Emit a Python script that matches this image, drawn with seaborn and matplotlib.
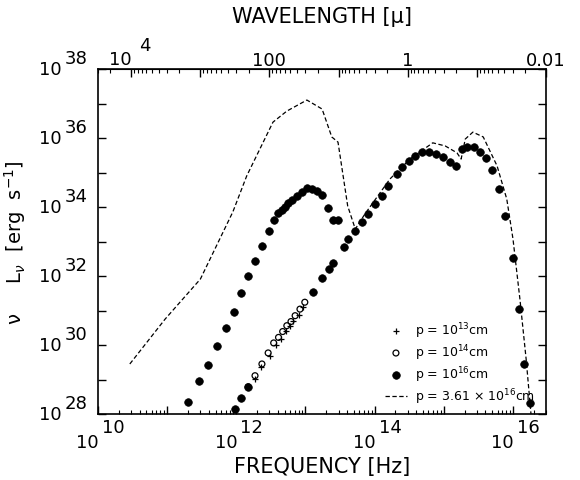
import numpy as np
import pandas as pd
import seaborn as sns
import matplotlib.pyplot as plt
from matplotlib.ticker import LogLocator, FixedLocator, NullFormatter, NullLocator

# log10 of frequency [Hz] and of nu L_nu [erg/s]
p16_lognu = [11.30, 11.46, 11.59, 11.72, 11.85, 11.97, 12.07, 12.17, 12.27, 12.37,
             12.47, 12.54, 12.60, 12.66, 12.70, 12.75, 12.81, 12.88, 12.95, 13.02,
             13.09, 13.17, 13.24, 13.33, 13.40, 13.47,
             11.98, 12.07, 12.17, 13.11, 13.24, 13.34, 13.40,
             13.55, 13.62, 13.72, 13.81, 13.91, 14.01, 14.10, 14.20, 14.32, 14.39,
             14.49, 14.58, 14.68, 14.78, 14.89, 14.99, 15.09, 15.18, 15.26, 15.34,
             15.44, 15.53, 15.61, 15.70, 15.80, 15.88, 16.00, 16.09, 16.16, 16.25]
p16_logL = [28.35, 28.96, 29.42, 29.97, 30.49, 30.96, 31.51, 32.00, 32.44, 32.87,
            33.30, 33.62, 33.83, 33.91, 34.00, 34.12, 34.20, 34.32, 34.44, 34.55,
            34.52, 34.46, 34.35, 33.97, 33.62, 33.62,
            28.15, 28.46, 28.78, 31.54, 31.94, 32.20, 32.38,
            32.83, 33.07, 33.31, 33.56, 33.80, 34.09, 34.33, 34.60, 34.96, 35.15,
            35.34, 35.49, 35.59, 35.60, 35.54, 35.44, 35.31, 35.20, 35.68, 35.73,
            35.75, 35.60, 35.41, 35.07, 34.52, 33.73, 32.51, 31.04, 29.45, 28.32]

p14_lognu = [12.17, 12.27, 12.37, 12.46, 12.54, 12.61, 12.67, 12.73, 12.79, 12.85, 12.92, 12.99]
p14_logL = [28.79, 29.11, 29.45, 29.77, 30.06, 30.22, 30.39, 30.56, 30.68, 30.85, 31.04, 31.24]

p13_lognu = [12.27, 12.35, 12.49, 12.57, 12.64, 12.72, 12.78, 12.82, 12.90, 12.96]
p13_logL = [29.01, 29.35, 29.69, 30.00, 30.17, 30.41, 30.56, 30.70, 30.87, 31.09]

p361_lognu = [10.46, 10.97, 11.48, 11.95, 12.15, 12.53, 12.73, 13.02, 13.24, 13.38,
              13.47, 13.61, 13.72, 13.86, 14.22, 14.51, 14.84, 15.02, 15.19, 15.25,
              15.31, 15.42, 15.57, 15.77, 15.91, 16.00, 16.10, 16.19, 16.26]
p361_logL = [29.45, 30.75, 31.91, 33.86, 34.90, 36.46, 36.78, 37.10, 36.84, 36.03,
             35.88, 34.03, 33.36, 33.80, 34.81, 35.39, 35.86, 35.77, 35.57, 35.39,
             35.97, 36.17, 36.03, 35.19, 34.23, 33.07, 31.33, 29.59, 28.00]

legend_labels = [r"p = $10^{13}$cm", r"p = $10^{14}$cm", r"p = $10^{16}$cm",
                 r"p = 3.61 × $10^{16}$cm"]

freq_exps = [10, 12, 14, 16]
lum_exps = [28, 30, 32, 34, 36, 38]
wave_ticks = [1e4, 1e3, 1e2, 1e1, 1.0, 1e-1, 1e-2]
wave_labels = {1e2: "100", 1.0: "1", 1e-2: "0.01"}

sns.set_style("ticks")
plt.rcParams['font.family'] = ['DejaVu Sans']
plt.rcParams['mathtext.fontset'] = 'dejavusans'
for k in ["text.color", "axes.labelcolor", "xtick.color", "ytick.color", "axes.edgecolor"]:
    plt.rcParams[k] = "black"

fig = plt.figure(figsize=(5.8, 4.81), dpi=100)
ax = fig.add_axes([98 / 580, 1 - 415 / 481, 448 / 580, 345 / 481])
ax.set_xscale("log")
ax.set_yscale("log")

df13 = pd.DataFrame({"nu": 10 ** np.array(p13_lognu), "L": 10 ** np.array(p13_logL)})
df14 = pd.DataFrame({"nu": 10 ** np.array(p14_lognu), "L": 10 ** np.array(p14_logL)})
df16 = pd.DataFrame({"nu": 10 ** np.array(p16_lognu), "L": 10 ** np.array(p16_logL)})
df361 = pd.DataFrame({"nu": 10 ** np.array(p361_lognu), "L": 10 ** np.array(p361_logL)})

sns.scatterplot(data=df13, x="nu", y="L", marker="+", color="black", s=22,
                linewidth=0.9, label=legend_labels[0], ax=ax, zorder=4)
sns.scatterplot(data=df14, x="nu", y="L", marker="o", facecolor="none",
                edgecolor="black", s=18, linewidth=0.9, label=legend_labels[1], ax=ax, zorder=5)
sns.scatterplot(data=df16, x="nu", y="L", marker="o", color="black",
                edgecolor="black", s=30, linewidth=0.5, label=legend_labels[2], ax=ax, zorder=3)
sns.lineplot(data=df361, x="nu", y="L", color="black", linestyle=(0, (3.5, 2)),
             linewidth=0.9, sort=False, estimator=None, label=legend_labels[3], ax=ax)

ax.set_xlim(1e10, 3e16)
ax.set_ylim(1e28, 1e38)

ax.xaxis.set_major_locator(LogLocator(base=10, numticks=20))
ax.xaxis.set_minor_locator(LogLocator(base=10, subs=np.arange(2, 10), numticks=20))
ax.yaxis.set_major_locator(LogLocator(base=10, numticks=20))
ax.yaxis.set_minor_locator(NullLocator())
ax.xaxis.set_major_formatter(NullFormatter())
ax.xaxis.set_minor_formatter(NullFormatter())
ax.yaxis.set_major_formatter(NullFormatter())
ax.tick_params(which="both", direction="in", top=False, right=True)
ax.tick_params(which="major", length=6, width=1.0)
ax.tick_params(which="minor", length=3, width=0.8)
for s in ax.spines.values():
    s.set_linewidth(1.2)

sec = ax.secondary_xaxis("top", functions=(lambda x: 3e14 / np.maximum(x, 1e-30),
                                           lambda x: 3e14 / np.maximum(x, 1e-30)))
sec.xaxis.set_major_locator(FixedLocator(wave_ticks))
sec.xaxis.set_minor_locator(LogLocator(base=10, subs=np.arange(2, 10), numticks=20))
sec.xaxis.set_major_formatter(NullFormatter())
sec.xaxis.set_minor_formatter(NullFormatter())
sec.tick_params(which="both", direction="in")
sec.tick_params(which="major", length=6, width=1.0)
sec.tick_params(which="minor", length=3, width=0.8)

# tick labels in the "10" + raised exponent style of the original
px = 0.72
fs = 13
def pow_label(xy, coords, base_off, exp_off, exp):
    ax.annotate("10", xy=xy, xycoords=coords, xytext=(base_off[0] * px, base_off[1] * px),
                textcoords="offset points", ha="right", va="center", fontsize=fs,
                annotation_clip=False)
    ax.annotate(exp, xy=xy, xycoords=coords, xytext=(exp_off[0] * px, exp_off[1] * px),
                textcoords="offset points", ha="left", va="center", fontsize=fs,
                annotation_clip=False)

for e in freq_exps:
    pow_label((10.0 ** e, 0), ("data", "axes fraction"), (1, -28), (4, -13), str(e))
for e in lum_exps:
    pow_label((0, 10.0 ** e), ("axes fraction", "data"), (-36, 0), (-33, 11), str(e))
pow_label((3e14 / 1e4, 1), ("data", "axes fraction"), (1, 10), (8, 24), "4")
for lam, txt in wave_labels.items():
    ax.annotate(txt, xy=(3e14 / lam, 1), xycoords=("data", "axes fraction"),
                xytext=(0, 9 * px), textcoords="offset points", ha="center", va="center",
                fontsize=fs, annotation_clip=False)

ax.set_xlabel("FREQUENCY [Hz]", fontsize=15)
ax.xaxis.set_label_coords(0.5, (415 - 457) / 345)
ax.set_ylabel(r"ν     L$_\nu$  [erg  s$^{-1}$]", fontsize=14)
ax.yaxis.set_label_coords((28 - 98) / 448, 0.5)
sec.set_xlabel("WAVELENGTH [μ]", fontsize=15)
sec.xaxis.set_label_coords(0.5, 1 + (70 - 23) / 345, transform=ax.transAxes)

ax.legend(loc="lower right", bbox_to_anchor=(1.0, -0.01), frameon=False, fontsize=9,
          handlelength=1.8, handletextpad=0.6, labelspacing=0.2)

fig.savefig("out.png", dpi=100)
